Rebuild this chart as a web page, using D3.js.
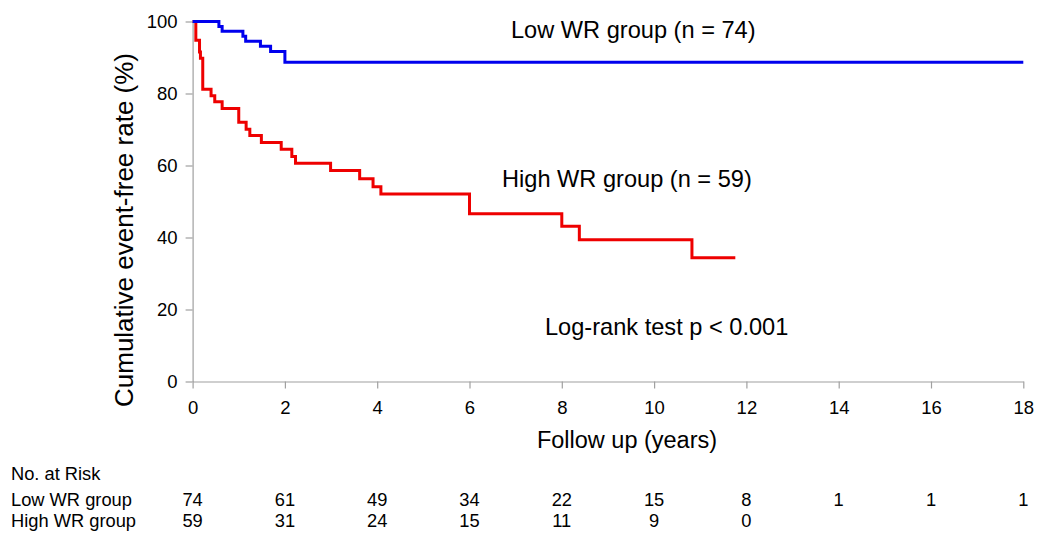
<!DOCTYPE html>
<html>
<head>
<meta charset="utf-8">
<script src="https://cdn.jsdelivr.net/npm/d3@7"></script>
<style>
  body { margin: 0; background: #fff; }
  svg text { font-family: "Liberation Sans", Arial, sans-serif; fill: #000; }
</style>
</head>
<body>
<div id="chart"></div>
<script>
// Kaplan-Meier step points
const lowTime = [0, 0.57, 0.64, 1.09, 1.15, 1.47, 1.69, 2.0, 18];
const lowSurv = [100, 98.6, 97.3, 95.9, 94.5, 93.1, 91.7, 88.7, 88.7];

const highTime = [0, 0.07, 0.15, 0.17, 0.22, 0.4, 0.48, 0.64, 1.0, 1.16, 1.24, 1.49, 1.92, 2.15, 2.23, 2.99, 3.62, 3.91, 4.08, 6.0, 8.0, 8.38, 10.82, 11.76];
const highSurv = [100, 94.8, 91.5, 89.8, 81.2, 79.4, 77.7, 75.8, 72.0, 70.1, 68.3, 66.4, 64.5, 62.5, 60.6, 58.6, 56.3, 54.1, 52.1, 46.6, 43.1, 39.4, 34.4, 34.4];

// Axis ticks
const xTicks = [0, 2, 4, 6, 8, 10, 12, 14, 16, 18];
const yTicks = [0, 20, 40, 60, 80, 100];

// Number at risk table
const riskYears = [0, 2, 4, 6, 8, 10, 12, 14, 16, 18];
const riskLow = [74, 61, 49, 34, 22, 15, 8, 1, 1, 1];
const riskHigh = [59, 31, 24, 15, 11, 9, 0];

const width = 1040, height = 535;

const svg = d3.select("#chart").append("svg")
    .attr("width", width)
    .attr("height", height);

const x = d3.scaleLinear().domain([0, 18]).range([192.6, 1023.3]);
const y = d3.scaleLinear().domain([0, 100]).range([381.5, 21.5]);

// Axes
const xAxis = d3.axisBottom(x).tickValues(xTicks).tickSize(7).tickSizeOuter(0).tickPadding(12);
const yAxis = d3.axisLeft(y).tickValues(yTicks).tickSize(7).tickSizeOuter(0).tickPadding(8);

const gx = svg.append("g")
    .attr("transform", "translate(0," + y(0) + ")")
    .call(xAxis);
const gy = svg.append("g")
    .attr("transform", "translate(" + x(0) + ",0)")
    .call(yAxis);

[gx, gy].forEach(g => {
    g.selectAll("path, line").attr("stroke", "#a0a0a0").attr("stroke-width", 1.2);
    g.selectAll("text")
        .attr("font-size", 18.5)
        .attr("font-family", "Liberation Sans, Arial, sans-serif")
        .attr("fill", "#000");
});

// Curves
const line = d3.line()
    .x(d => x(d[0]))
    .y(d => y(d[1]))
    .curve(d3.curveStepAfter);

svg.append("path")
    .datum(d3.zip(highTime, highSurv))
    .attr("fill", "none")
    .attr("stroke", "#ee0000")
    .attr("stroke-width", 3)
    .attr("d", line);

svg.append("path")
    .datum(d3.zip(lowTime, lowSurv))
    .attr("fill", "none")
    .attr("stroke", "#0000ee")
    .attr("stroke-width", 3)
    .attr("d", line);

// Axis titles
svg.append("text")
    .attr("transform", "translate(133,230) rotate(-90)")
    .attr("text-anchor", "middle")
    .attr("font-size", 26)
    .text("Cumulative event-free rate (%)");

svg.append("text")
    .attr("x", 627)
    .attr("y", 448)
    .attr("text-anchor", "middle")
    .attr("font-size", 23.5)
    .text("Follow up (years)");

// Annotations
svg.append("text")
    .attr("x", 511).attr("y", 38)
    .attr("font-size", 23.6)
    .text("Low WR group (n = 74)");

svg.append("text")
    .attr("x", 502).attr("y", 187)
    .attr("font-size", 23.6)
    .text("High WR group (n = 59)");

svg.append("text")
    .attr("x", 545).attr("y", 335)
    .attr("font-size", 23.6)
    .text("Log-rank test p < 0.001");

// Number at risk
svg.append("text")
    .attr("x", 11).attr("y", 480)
    .attr("font-size", 18.3)
    .text("No. at Risk");

svg.append("text")
    .attr("x", 11).attr("y", 506)
    .attr("font-size", 18.3)
    .text("Low WR group");

svg.append("text")
    .attr("x", 11).attr("y", 527)
    .attr("font-size", 18.3)
    .text("High WR group");

svg.selectAll(".risk-low")
    .data(riskLow)
    .join("text")
    .attr("class", "risk-low")
    .attr("x", (d, i) => x(riskYears[i]))
    .attr("y", 506)
    .attr("text-anchor", "middle")
    .attr("font-size", 18.3)
    .text(d => d);

svg.selectAll(".risk-high")
    .data(riskHigh)
    .join("text")
    .attr("class", "risk-high")
    .attr("x", (d, i) => x(riskYears[i]))
    .attr("y", 527)
    .attr("text-anchor", "middle")
    .attr("font-size", 18.3)
    .text(d => d);
</script>
</body>
</html>
